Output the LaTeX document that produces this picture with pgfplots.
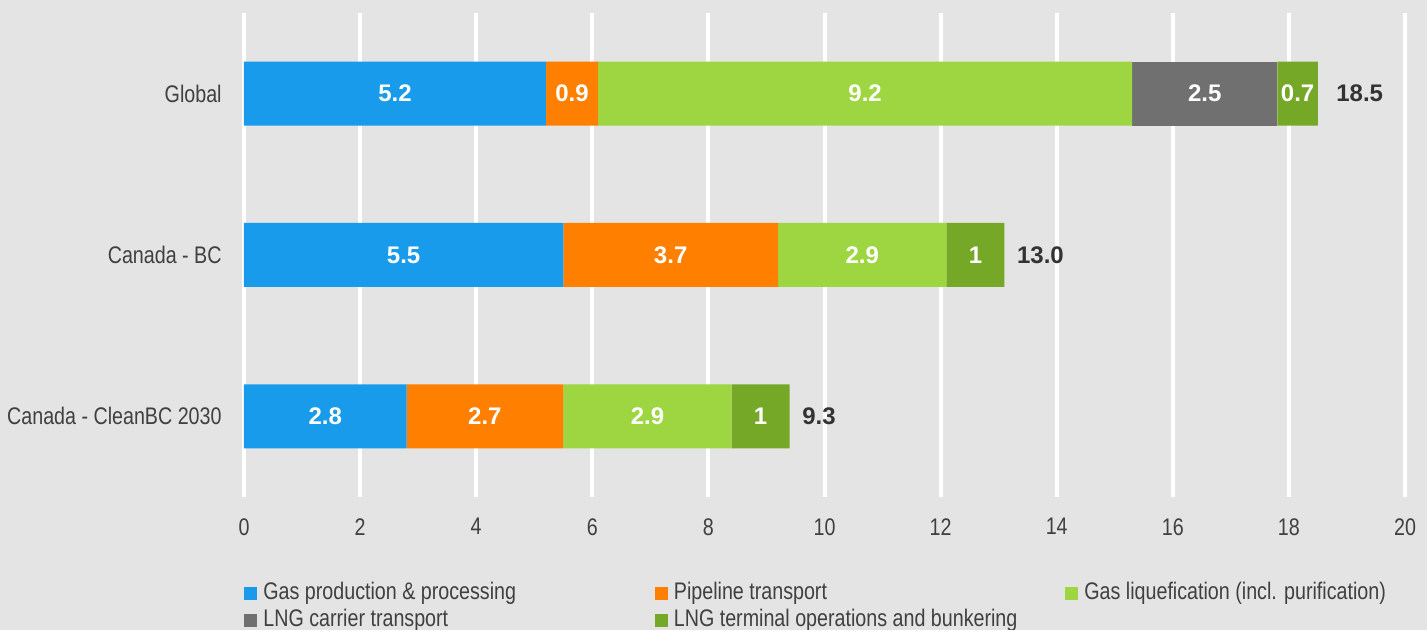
\documentclass[border=0pt]{standalone}
\usepackage{fontspec}
\setmainfont{Liberation Sans}[FakeStretch=0.82]
\newfontfamily\labfont{Liberation Sans}
\usepackage{pgfplots}
\pgfplotsset{compat=1.18}
\usepackage{pgfplotstable}
\definecolor{bg}{HTML}{E4E4E4}
\definecolor{cblue}{HTML}{189BEB}
\definecolor{corange}{HTML}{FF8000}
\definecolor{clgreen}{HTML}{9ED641}
\definecolor{cgray}{HTML}{707070}
\definecolor{cdgreen}{HTML}{76A828}
\definecolor{txt}{HTML}{404040}
\definecolor{tot}{HTML}{333333}

\pgfplotstableread{
y prod pipe liq carrier term
2 5.2 0.9 9.2 2.5 0.7
1 5.5 3.7 2.9 0 1.0
0 2.8 2.7 2.9 0 1.0
}\segdata

\pgfplotstableread{
x y label
2.6 2 5.2
5.65 2 0.9
10.7 2 9.2
16.55 2 2.5
18.15 2 0.7
2.75 1 5.5
7.35 1 3.7
10.65 1 2.9
12.6 1 1
1.4 0 2.8
4.15 0 2.7
6.95 0 2.9
8.9 0 1
}\seglabels

\pgfplotstableread{
x y label
18.5 2 18.5
13.0 1 13.0
9.3 0 9.3
}\totals

\begin{document}
\begin{tikzpicture}
\path[use as bounding box, fill=bg] (-122pt,-66.5pt) rectangle (591.5pt,248.5pt);
\begin{axis}[
  at={(0,0)}, anchor=south west,
  scale only axis, width=580.5pt, height=242pt,
  xbar stacked, bar width=32pt,
  xmin=0, xmax=20, ymin=-0.5, ymax=2.5,
  xtick={0,2,...,20},
  ytick={0,1,2},
  yticklabels={Canada - CleanBC 2030, Canada - BC, Global},
  axis line style={draw=none},
  major tick length=0pt,
  xmajorgrids, ymajorgrids=false,
  grid style={white, line width=2pt},
  /pgf/number format/assume math mode=true,
  tick label style={font=\fontsize{12}{14}\selectfont, text=txt},
  xticklabel style={anchor=north, inner sep=0pt, yshift=-10.5pt},
  yticklabel style={anchor=east, inner sep=0pt, xshift=-11pt},
  legend columns=3,
  legend cell align=left,
  legend image code/.code={\fill[#1] (0pt,-3.25pt) rectangle (6.5pt,3.25pt);},
  legend style={draw=none, fill=none, at={(0,0)}, anchor=north west,
    yshift=-42.5pt, inner sep=0pt, column sep=0pt, row sep=2.75pt,
    font=\fontsize{12}{14}\selectfont, text=txt,
    nodes={inner sep=0pt, text height=8.5pt, text depth=2.5pt}},
]
\addplot[fill=cblue, draw=none] table[x=prod, y=y] {\segdata};
\addlegendentry{\makebox[198.75pt][l]{\hspace{3pt}Gas production \& processing}}
\addplot[fill=corange, draw=none] table[x=pipe, y=y] {\segdata};
\addlegendentry{\makebox[198.75pt][l]{\hspace{3pt}Pipeline transport}}
\addplot[fill=clgreen, draw=none] table[x=liq, y=y] {\segdata};
\addlegendentry{\makebox[198.75pt][l]{\hspace{3pt}Gas liquefication (incl. purification)}}
\addplot[fill=cgray, draw=none] table[x=carrier, y=y] {\segdata};
\addlegendentry{\makebox[198.75pt][l]{\hspace{3pt}LNG carrier transport}}
\addplot[fill=cdgreen, draw=none] table[x=term, y=y] {\segdata};
\addlegendentry{\makebox[198.75pt][l]{\hspace{3pt}LNG terminal operations and bunkering}}
\end{axis}
\begin{axis}[
  at={(0,0)}, anchor=south west,
  scale only axis, width=580.5pt, height=242pt,
  xmin=0, xmax=20, ymin=-0.5, ymax=2.5,
  hide axis, clip=false,
]
\addplot[only marks, mark=none, nodes near coords, point meta=explicit symbolic,
  every node near coord/.append style={anchor=center, inner sep=0pt, text=white,
    font=\labfont\bfseries\fontsize{12}{14}\selectfont}]
  table[x=x, y=y, meta=label] {\seglabels};
\addplot[only marks, mark=none, nodes near coords, point meta=explicit symbolic,
  every node near coord/.append style={anchor=west, inner sep=0pt, xshift=9pt, text=tot,
    font=\labfont\bfseries\fontsize{12}{14}\selectfont}]
  table[x=x, y=y, meta=label] {\totals};
\end{axis}
\end{tikzpicture}
\end{document}
